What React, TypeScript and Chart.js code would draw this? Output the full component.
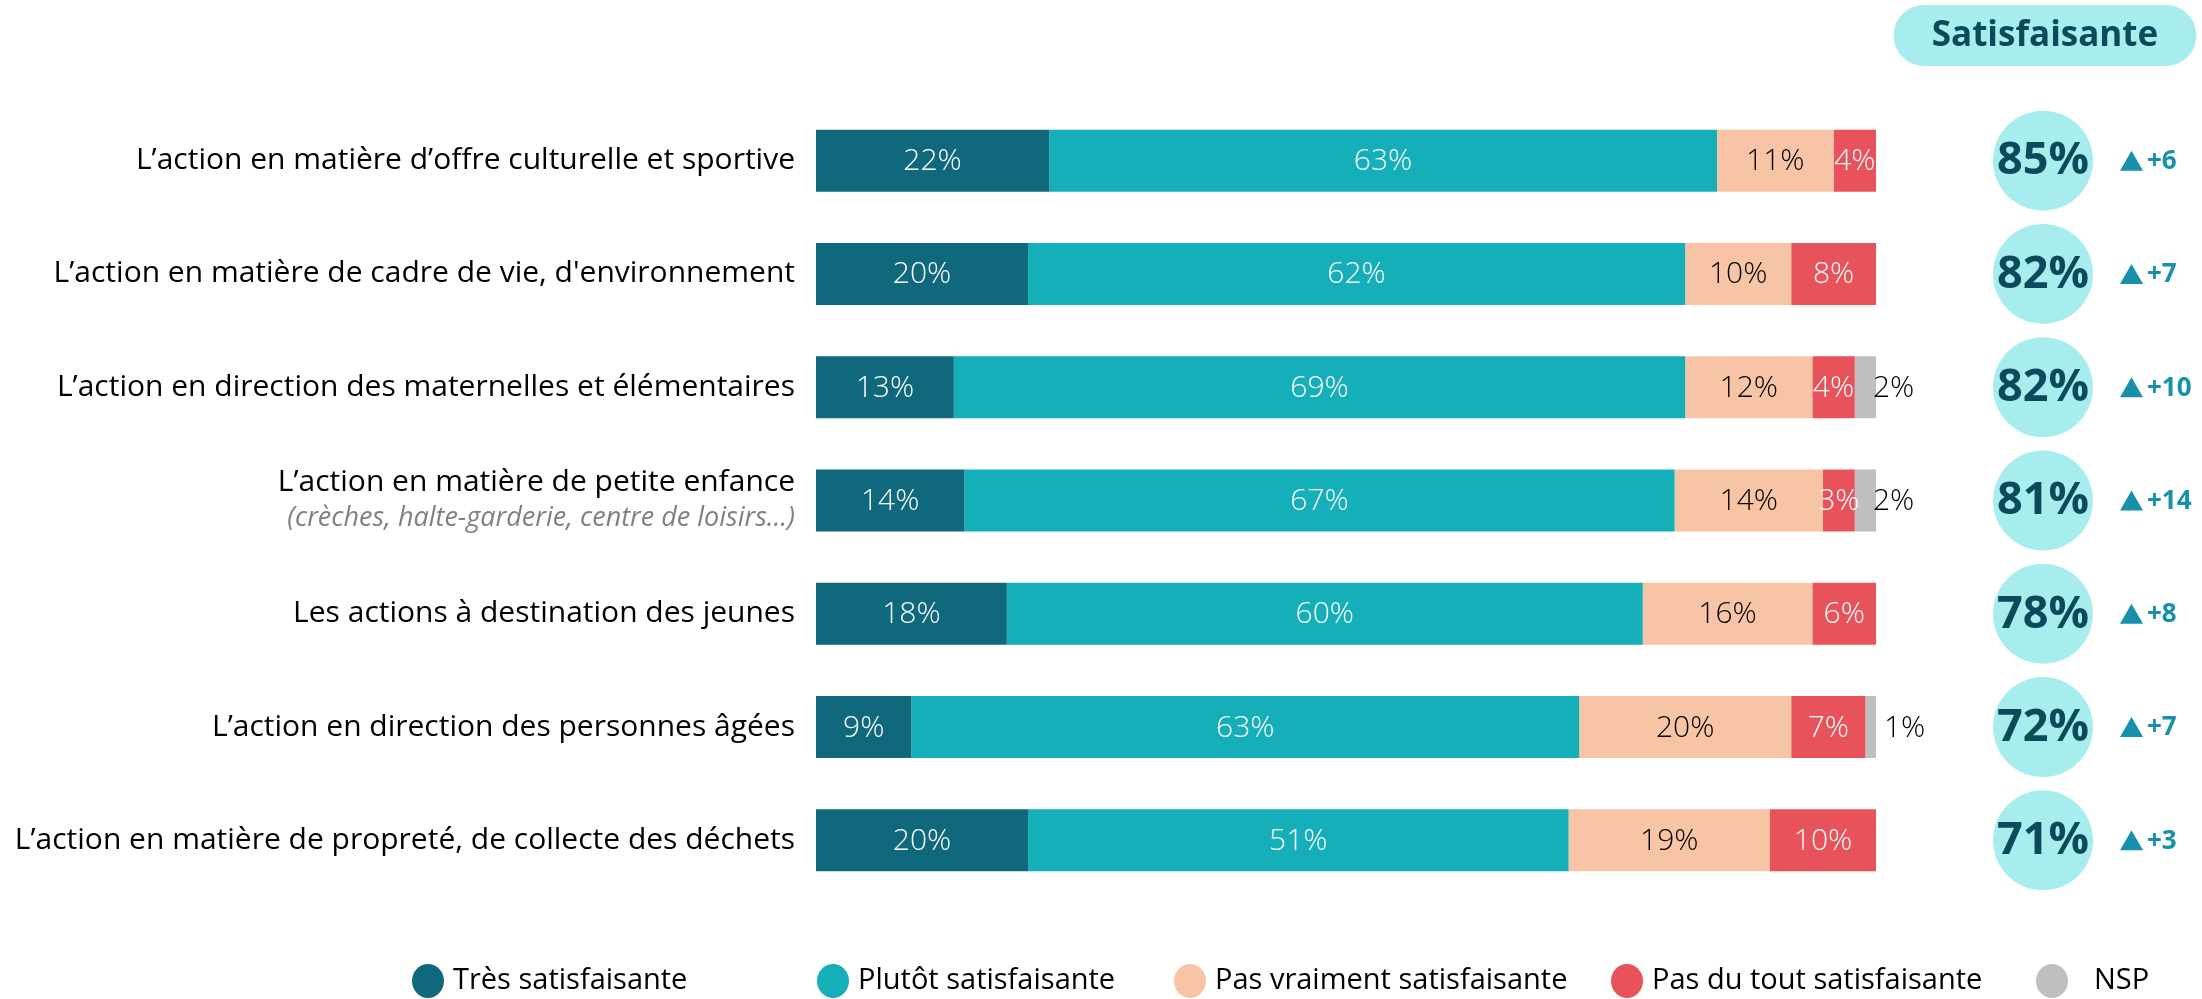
import React, { useEffect, useRef } from "react";
import { Chart, registerables } from "chart.js";

Chart.register(...registerables);

const CATEGORIES = [
  "L’action en matière d’offre culturelle et sportive",
  "L’action en matière de cadre de vie, d'environnement",
  "L’action en direction des maternelles et élémentaires",
  "L’action en matière de petite enfance",
  "Les actions à destination des jeunes",
  "L’action en direction des personnes âgées",
  "L’action en matière de propreté, de collecte des déchets",
];
const SUBTITLES = ["", "", "", "(crèches, halte-garderie, centre de loisirs…)", "", "", ""];

const SERIES_NAMES = [
  "Très satisfaisante",
  "Plutôt satisfaisante",
  "Pas vraiment satisfaisante",
  "Pas du tout satisfaisante",
  "NSP",
];
const TRES = [22, 20, 13, 14, 18, 9, 20];
const PLUTOT = [63, 62, 69, 67, 60, 63, 51];
const PAS_VRAIMENT = [11, 10, 12, 14, 16, 20, 19];
const PAS_DU_TOUT = [4, 8, 4, 3, 6, 7, 10];
const NSP = [0, 0, 2, 2, 0, 1, 0];

const SATISFAISANTE = [85, 82, 82, 81, 78, 72, 71];
const EVOLUTION = [6, 7, 10, 14, 8, 7, 3];
const HEADER = "Satisfaisante";

const COLORS = ["#10687d", "#14afb8", "#f7c4a5", "#e8525b", "#bfbfbf"];
const LABEL_COLORS = ["#ffffff", "#ffffff", "#000000", "#ffffff", "#000000"];

const FONT = "'Open Sans', 'Noto Sans', sans-serif";

const overlayPlugin = {
  id: "overlay",
  afterDatasetsDraw(chart: any) {
    const ctx = chart.ctx as CanvasRenderingContext2D;
    const area = chart.chartArea;
    ctx.save();

    // value labels
    chart.data.datasets.forEach((ds: any, i: number) => {
      const meta = chart.getDatasetMeta(i);
      meta.data.forEach((el: any, j: number) => {
        const v = ds.data[j];
        if (!v) return;
        ctx.textBaseline = "middle";
        ctx.fillStyle = LABEL_COLORS[i];
        if (i === 4) {
          ctx.font = `300 30px ${FONT}`;
          ctx.textAlign = "left";
          ctx.fillText(`${v}%`, el.x + (v < 2 ? 8 : -3), el.y + 1);
        } else {
          ctx.font = `300 30px ${FONT}`;
          ctx.textAlign = "center";
          ctx.fillText(`${v}%`, (el.x + el.base) / 2, el.y + 1);
        }
      });
    });

    // category labels
    const meta0 = chart.getDatasetMeta(0);
    meta0.data.forEach((el: any, j: number) => {
      const y = el.y;
      const xr = area.left - 21;
      ctx.textAlign = "right";
      ctx.textBaseline = "middle";
      ctx.fillStyle = "#000000";
      ctx.font = `400 30px ${FONT}`;
      if (SUBTITLES[j]) {
        ctx.fillText(CATEGORIES[j], xr, y - 18);
        ctx.font = `italic 400 27px ${FONT}`;
        ctx.fillStyle = "#808080";
        ctx.fillText(SUBTITLES[j], xr, y + 18);
      } else {
        ctx.fillText(CATEGORIES[j], xr, y);
      }

      // satisfaction circle
      const cx = area.right + 167;
      ctx.beginPath();
      ctx.arc(cx, y, 50, 0, Math.PI * 2);
      ctx.fillStyle = "#a8eded";
      ctx.fill();
      ctx.fillStyle = "#0b4a5a";
      ctx.font = `700 45px ${FONT}`;
      ctx.textAlign = "center";
      ctx.fillText(`${SATISFAISANTE[j]}%`, cx, y + 1);

      // evolution
      const tx = area.right + 244;
      ctx.beginPath();
      ctx.moveTo(tx, y + 10);
      ctx.lineTo(tx + 23, y + 10);
      ctx.lineTo(tx + 11.5, y - 10);
      ctx.closePath();
      ctx.fillStyle = "#1690ab";
      ctx.fill();
      ctx.font = `700 26px ${FONT}`;
      ctx.textAlign = "left";
      ctx.fillText(`+${EVOLUTION[j]}`, tx + 27, y + 1);
    });

    // header pill
    const px = 1894, py = 5, pw = 302, ph = 61, r = 30;
    ctx.beginPath();
    ctx.moveTo(px + r, py);
    ctx.lineTo(px + pw - r, py);
    ctx.arc(px + pw - r, py + r + 0.5, r + 0.5, -Math.PI / 2, Math.PI / 2);
    ctx.lineTo(px + r, py + ph);
    ctx.arc(px + r, py + r + 0.5, r + 0.5, Math.PI / 2, (3 * Math.PI) / 2);
    ctx.closePath();
    ctx.fillStyle = "#a8eded";
    ctx.fill();
    ctx.fillStyle = "#0b4a5a";
    ctx.font = `700 35px ${FONT}`;
    ctx.textAlign = "center";
    ctx.textBaseline = "middle";
    ctx.fillText(HEADER, px + pw / 2, py + ph / 2 + 1);

    // legend
    const legendX = [428, 833, 1190, 1627, 2052];
    const ly = 981;
    SERIES_NAMES.forEach((name, i) => {
      ctx.beginPath();
      ctx.ellipse(legendX[i], ly, 16, 17, 0, 0, Math.PI * 2);
      ctx.fillStyle = COLORS[i];
      ctx.fill();
      ctx.fillStyle = "#000000";
      ctx.font = `400 29px ${FONT}`;
      ctx.textAlign = "left";
      ctx.textBaseline = "middle";
      ctx.fillText(name, legendX[i] + (i === 4 ? 42 : 25), ly);
    });

    ctx.restore();
  },
};

export default function App() {
  const ref = useRef<HTMLCanvasElement | null>(null);

  useEffect(() => {
    document.body.style.margin = "0";
    document.body.style.overflow = "hidden";
    const canvas = ref.current!;
    const seriesData = [TRES, PLUTOT, PAS_VRAIMENT, PAS_DU_TOUT, NSP];
    const chart = new Chart(canvas, {
      type: "bar",
      data: {
        labels: CATEGORIES,
        datasets: seriesData.map((d, i) => ({
          label: SERIES_NAMES[i],
          data: d,
          backgroundColor: COLORS[i],
          borderWidth: 0,
          barPercentage: 0.547,
          categoryPercentage: 1,
        })),
      },
      options: {
        indexAxis: "y",
        animation: false,
        responsive: false,
        maintainAspectRatio: false,
        devicePixelRatio: 1,
        layout: { padding: { left: 816, right: 326, top: 104, bottom: 102 } },
        scales: {
          x: { stacked: true, min: 0, max: 100, display: false },
          y: { stacked: true, display: false },
        },
        plugins: {
          legend: { display: false },
          tooltip: { enabled: false },
          title: { display: false },
        },
      },
      plugins: [overlayPlugin],
    });
    return () => chart.destroy();
  }, []);

  return (
    <div style={{ width: 2202, height: 999, background: "#ffffff" }}>
      <canvas ref={ref} width={2202} height={999} style={{ display: "block", width: 2202, height: 999 }} />
    </div>
  );
}
